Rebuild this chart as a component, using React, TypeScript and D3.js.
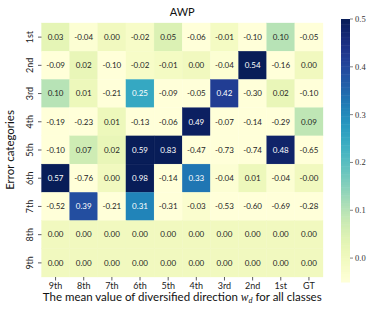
import React from 'react';
import * as d3 from 'd3';

const rowLabels = ['1st', '2nd', '3rd', '4th', '5th', '6th', '7th', '8th', '9th'];
const colLabels = ['9th', '8th', '7th', '6th', '5th', '4th', '3rd', '2nd', '1st', 'GT'];

const row1 = [0.03, -0.04, 0.0, -0.02, 0.05, -0.06, -0.01, -0.1, 0.1, -0.05];
const row2 = [-0.09, 0.02, -0.1, -0.02, -0.01, 0.0, -0.04, 0.54, -0.16, 0.0];
const row3 = [0.1, 0.01, -0.21, 0.25, -0.09, -0.05, 0.42, -0.3, 0.02, -0.1];
const row4 = [-0.19, -0.23, 0.01, -0.13, -0.06, 0.49, -0.07, -0.14, -0.29, 0.09];
const row5 = [-0.1, 0.07, 0.02, 0.59, 0.83, -0.47, -0.73, -0.74, 0.48, -0.65];
const row6 = [0.57, -0.76, 0.0, 0.98, -0.14, 0.33, -0.04, 0.01, -0.04, -0.0];
const row7 = [-0.52, 0.39, -0.21, 0.31, -0.31, -0.03, -0.53, -0.6, -0.69, -0.28];
const row8 = [0, 0, 0, 0, 0, 0, 0, 0, 0, 0];
const row9 = [0, 0, 0, 0, 0, 0, 0, 0, 0, 0];
const values = [row1, row2, row3, row4, row5, row6, row7, row8, row9];

const cbarTicks = [0.0, 0.1, 0.2, 0.3, 0.4, 0.5];
const vmin = -0.05;
const vmax = 0.5;

const sans = "Lato, 'Open Sans', sans-serif";
const serif = "'Liberation Serif', 'DejaVu Serif', serif";

export default function App() {
  const width = 381;
  const height = 319;
  const left = 41.5, right = 323, top = 23, bottom = 277;

  const x = d3.scaleBand<string>().domain(colLabels).range([left, right]);
  const y = d3.scaleBand<string>().domain(rowLabels).range([top, bottom]);
  const color = d3.scaleSequential(d3.interpolateYlGnBu).domain([vmin, vmax]).clamp(true);

  // colorbar
  const cbX = 341, cbW = 9, cbTop = 19, cbBottom = 282;
  const cy = d3.scaleLinear().domain([vmin, vmax]).range([cbBottom, cbTop]);
  const steps = d3.range(0, 100).map(i => vmin + (i / 100) * (vmax - vmin));

  const lum = (c: string) => {
    const rgb = d3.rgb(c);
    const f = (v: number) => {
      v /= 255;
      return v <= 0.03928 ? v / 12.92 : Math.pow((v + 0.055) / 1.055, 2.4);
    };
    return 0.2126 * f(rgb.r) + 0.7152 * f(rgb.g) + 0.0722 * f(rgb.b);
  };

  const fmt = (v: number) => {
    const s = v.toFixed(2);
    return Object.is(v, -0) ? '-0.00' : s;
  };

  return (
    <svg width={width} height={height} style={{ display: 'block', position: 'absolute', left: 0, top: 0, background: 'white' }}>
      {/* cells */}
      {values.map((row, i) =>
        row.map((v, j) => {
          const fill = color(v);
          const tx = lum(fill) > 0.408 ? '#262626' : 'white';
          return (
            <g key={`${i}-${j}`}>
              <rect
                x={x(colLabels[j])}
                y={y(rowLabels[i])}
                width={x.bandwidth()}
                height={y.bandwidth()}
                fill={fill}
                stroke={fill}
                strokeWidth={0.3}
              />
              <text
                x={x(colLabels[j])! + x.bandwidth() / 2}
                y={y(rowLabels[i])! + y.bandwidth() / 2}
                dy="0.35em"
                textAnchor="middle"
                fontFamily={sans}
                fontSize={8}
                fill={tx}
              >
                {fmt(v)}
              </text>
            </g>
          );
        })
      )}

      {/* title */}
      <text x={(left + right) / 2} y={16} textAnchor="middle" fontFamily={sans} fontSize={11} fill="#111">
        AWP
      </text>

      {/* x ticks */}
      {colLabels.map(c => (
        <g key={c}>
          <line x1={x(c)! + x.bandwidth() / 2} x2={x(c)! + x.bandwidth() / 2} y1={bottom} y2={bottom + 3.5} stroke="#333" strokeWidth={0.8} />
          <text x={x(c)! + x.bandwidth() / 2} y={289} textAnchor="middle" fontFamily={sans} fontSize={9} fill="#222">
            {c}
          </text>
        </g>
      ))}

      {/* y ticks */}
      {rowLabels.map(r => {
        const yc = y(r)! + y.bandwidth() / 2;
        return (
          <g key={r}>
            <line x1={left - 3.5} x2={left} y1={yc} y2={yc} stroke="#333" strokeWidth={0.8} />
            <text
              transform={`translate(33,${yc}) rotate(-90)`}
              textAnchor="middle"
              fontFamily={sans}
              fontSize={9}
              fill="#222"
            >
              {r}
            </text>
          </g>
        );
      })}

      {/* axis labels */}
      <text x={(left + right) / 2} y={301} textAnchor="middle" fontFamily={sans} fontSize={11.5} fill="#111">
        The mean value of diversified direction{' '}
        <tspan fontFamily={serif} fontStyle="italic">w</tspan>
        <tspan fontFamily={serif} fontStyle="italic" fontSize={8} dy={2}>d</tspan>
        <tspan dy={-2}> for all classes</tspan>
      </text>
      <text
        transform={`translate(14,${(top + bottom) / 2}) rotate(-90)`}
        textAnchor="middle"
        fontFamily={sans}
        fontSize={11.5}
        fill="#111"
      >
        Error categories
      </text>

      {/* colorbar */}
      {steps.map((s, i) => (
        <rect
          key={i}
          x={cbX}
          y={cy(s + (vmax - vmin) / 100)}
          width={cbW}
          height={cy(s) - cy(s + (vmax - vmin) / 100) + 0.5}
          fill={color(s + (vmax - vmin) / 200)}
        />
      ))}
      {cbarTicks.map(t => (
        <g key={t}>
          <line x1={cbX + cbW} x2={cbX + cbW + 3} y1={cy(t)} y2={cy(t)} stroke="#333" strokeWidth={0.6} />
          <text x={cbX + cbW + 5} y={cy(t)} dy="0.35em" fontFamily={serif} fontSize={8.5} fill="#333">
            {t.toFixed(1)}
          </text>
        </g>
      ))}
    </svg>
  );
}
